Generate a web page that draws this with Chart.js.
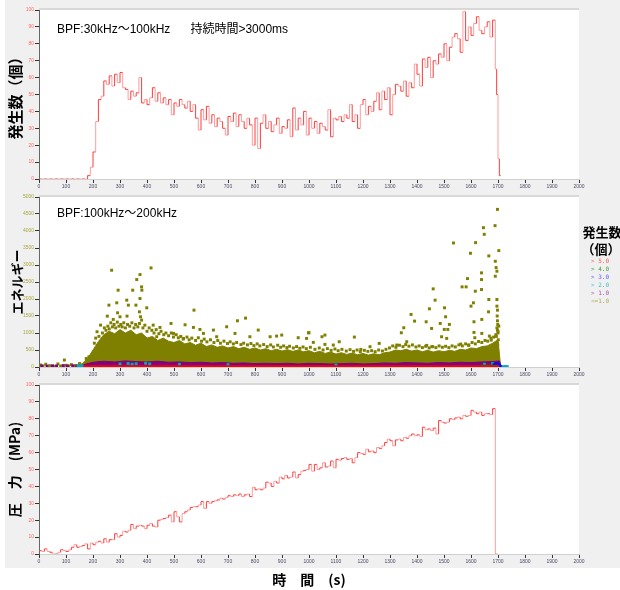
<!DOCTYPE html>
<html>
<head>
<meta charset="utf-8">
<script src="https://cdn.jsdelivr.net/npm/chart.js@4/dist/chart.umd.min.js"></script>
<style>
  body { margin: 0; background: #fff; }
  canvas { position: absolute; left: 0; }
</style>
</head>
<body>
<canvas id="countChart" width="620" height="190" style="top:0px"></canvas>
<canvas id="energyChart" width="620" height="190" style="top:190px"></canvas>
<canvas id="pressureChart" width="620" height="210" style="top:380px"></canvas>
<script>
// time grid (s), 10 s bins
const secs = [
  0, 10, 20, 30, 40, 50, 60, 70, 80, 90,
  100, 110, 120, 130, 140, 150, 160, 170, 180, 190,
  200, 210, 220, 230, 240, 250, 260, 270, 280, 290,
  300, 310, 320, 330, 340, 350, 360, 370, 380, 390,
  400, 410, 420, 430, 440, 450, 460, 470, 480, 490,
  500, 510, 520, 530, 540, 550, 560, 570, 580, 590,
  600, 610, 620, 630, 640, 650, 660, 670, 680, 690,
  700, 710, 720, 730, 740, 750, 760, 770, 780, 790,
  800, 810, 820, 830, 840, 850, 860, 870, 880, 890,
  900, 910, 920, 930, 940, 950, 960, 970, 980, 990,
  1000, 1010, 1020, 1030, 1040, 1050, 1060, 1070, 1080, 1090,
  1100, 1110, 1120, 1130, 1140, 1150, 1160, 1170, 1180, 1190,
  1200, 1210, 1220, 1230, 1240, 1250, 1260, 1270, 1280, 1290,
  1300, 1310, 1320, 1330, 1340, 1350, 1360, 1370, 1380, 1390,
  1400, 1410, 1420, 1430, 1440, 1450, 1460, 1470, 1480, 1490,
  1500, 1510, 1520, 1530, 1540, 1550, 1560, 1570, 1580, 1590,
  1600, 1610, 1620, 1630, 1640, 1650, 1660, 1670, 1680, 1690,
  1700
];
const tailSecs = [1695, 1700, 1705, 1710];

// top panel: hit count (BPF 30-100 kHz)
const counts = [
  0, 0, 0, 0, 0, 0, 0, 0, 0, 0,
  0, 0, 0, 0, 0, 0, 0, 0, 0, 2,
  7, 16, 34, 47, 49, 58, 56, 61, 55, 62,
  57, 63, 54, 53, 47, 52, 49, 51, 60, 45,
  47, 44, 48, 54, 46, 51, 45, 48, 44, 47,
  38, 45, 43, 47, 44, 42, 46, 40, 44, 36,
  29, 41, 35, 43, 33, 38, 31, 36, 34, 30,
  26, 37, 34, 39, 31, 38, 34, 30, 36, 32,
  20, 36, 18, 33, 38, 30, 34, 28, 32, 36,
  27, 31, 30, 35, 25, 42, 29, 36, 32, 40,
  26, 36, 30, 34, 27, 33, 31, 29, 41, 25,
  36, 35, 37, 34, 38, 36, 44, 34, 38, 30,
  44, 47, 38, 43, 40, 46, 51, 41, 52, 47,
  54, 38, 50, 56, 55, 52, 58, 49, 57, 54,
  68, 62, 55, 71, 66, 72, 60, 70, 68, 74,
  72, 80, 70, 78, 84, 86, 83, 75, 99, 82,
  90, 85, 92, 96, 88, 86, 90, 93, 84, 94
];
const countsTail = [65, 50, 12, 2];

// bottom panel: pressure (MPa)
const pressure = [
  2.5, 2, 1.5, 3, 1.5, 1, 0, 0, 1, 2.5,
  2, 1.5, 2.5, 4, 5.5, 4, 4.5, 5, 6, 3,
  6.5, 5.5, 7, 7.5, 6.5, 9, 7, 8.5, 8.5, 12,
  10, 11, 13.5, 13, 14, 17.5, 15, 16.5, 17, 16.5,
  15, 17, 18, 16.5, 16, 20, 20.5, 21, 21.5, 23,
  19, 25, 22, 19, 24, 25, 26, 27.5, 28, 28,
  29, 31, 27, 31, 30, 31, 31.5, 32, 33, 32.5,
  33.5, 34.5, 34, 35, 34.5, 35.5, 34, 35, 35.5, 34,
  39.5, 38, 38.5, 38, 39, 42.5, 42, 40, 43, 42,
  45.5, 44.5, 46.5, 45, 45.5, 48.5, 45, 47, 49, 49.5,
  50, 53, 49, 53, 50, 51, 54, 51.5, 52, 55,
  51, 56, 55.5, 56.5, 57, 56, 56.5, 54, 57, 60,
  59.5, 59, 62, 60.5, 61, 60, 63, 62.5, 64, 66,
  68, 67, 64, 67.5, 68, 67, 69, 68.5, 70, 71,
  70, 70.5, 69.5, 75, 73.5, 74, 73, 74.5, 71, 79,
  78, 77.5, 78, 80, 79.5, 80.5, 81, 80, 82, 81.5,
  82, 85, 84, 83, 84, 82, 83, 83, 82.5, 86,
  0
];

// middle panel: energy (BPF 100-200 kHz), grouped by hit count class
const bandSecs = [
  160, 180, 200, 220, 240, 260, 280, 300, 320, 340, 360, 380, 400, 420, 440, 460, 480, 500,
  520, 540, 560, 580, 600, 620, 640, 660, 680, 700, 720, 740, 760, 780, 800, 820, 840, 860,
  880, 900, 920, 940, 960, 980, 1000, 1020, 1040, 1060, 1080, 1100, 1120, 1140, 1160, 1180,
  1200, 1220, 1240, 1260, 1280, 1300, 1320, 1340, 1360, 1380, 1400, 1420, 1440, 1460, 1480,
  1500, 1520, 1540, 1560, 1580, 1600, 1620, 1640, 1660, 1680, 1700, 1710
];
const bandTop = [
  100, 250, 500, 750, 950, 1050, 980, 1100, 1000, 1080, 950, 1000, 850, 900, 780, 850, 760, 720,
  780, 680, 720, 640, 700, 600, 650, 580, 620, 560, 600, 540, 580, 520, 560, 500, 540, 480,
  520, 470, 510, 460, 500, 450, 480, 420, 460, 400, 440, 380, 420, 370, 410, 360,
  400, 350, 390, 360, 420, 440, 500, 480, 520, 470, 500, 450, 490, 440, 480,
  450, 490, 460, 520, 500, 560, 540, 600, 620, 700, 800, 0
];
const violetSecs = [
  160, 200, 240, 280, 320, 360, 400, 440, 480, 520, 560, 600, 640, 680, 720, 760, 800, 840,
  880, 920, 960, 1000, 1040, 1080, 1120, 1160, 1200, 1240, 1280, 1320, 1360, 1400, 1440,
  1480, 1520, 1560, 1600, 1640, 1680, 1705, 1712
];
const violetTop = [
  60, 140, 170, 150, 180, 160, 150, 170, 140, 150, 130, 140, 120, 130, 110, 120, 100, 110,
  100, 110, 90, 110, 100, 90, 100, 110, 90, 100, 120, 110, 130, 120, 110,
  130, 120, 140, 130, 150, 160, 180, 0
];
const oliveHits = [
  [5, 60], [15, 30], [25, 80], [40, 40], [55, 20], [70, 90], [80, 30], [94, 205], [100, 50],
  [110, 30], [120, 70], [135, 40], [150, 100], [160, 60], [175, 250], [185, 300], [195, 180],
  [205, 700], [210, 850], [215, 1037], [222, 900], [228, 1232], [235, 1000], [242, 1150],
  [248, 1080], [255, 1200], [260, 1120], [266, 1300], [272, 1180], [278, 1250], [284, 1150],
  [290, 1320], [296, 1200], [303, 1250], [308, 1180], [314, 1300], [320, 1150], [328, 1250],
  [336, 1200], [344, 1300], [352, 1150], [358, 1250], [366, 1180], [372, 1280], [385, 1150],
  [392, 1230], [400, 1050], [408, 1150], [418, 1080], [426, 1000], [434, 1100], [444, 980],
  [452, 1050], [462, 950], [470, 1000], [480, 920], [490, 1000], [498, 880],
  [508, 950], [516, 860], [525, 900], [534, 820], [548, 880], [556, 800], [566, 850],
  [580, 780], [590, 860], [602, 760], [612, 820], [622, 740], [635, 800], [648, 720],
  [662, 780], [672, 700], [685, 760], [698, 690], [708, 740], [720, 680], [732, 720],
  [748, 660], [758, 700], [772, 650], [785, 690], [796, 630],
  [808, 680], [818, 620], [832, 660], [845, 600], [858, 650], [868, 590], [884, 640],
  [895, 580], [906, 620], [918, 570], [928, 610], [942, 560], [954, 600], [966, 550],
  [978, 590], [990, 540], [1005, 580], [1022, 520], [1038, 560], [1052, 500], [1068, 540],
  [1082, 490], [1096, 530], [1108, 480], [1122, 520], [1138, 470], [1152, 510], [1165, 460],
  [1178, 500], [1190, 450], [1205, 490], [1218, 460], [1232, 480], [1245, 450], [1258, 500],
  [1272, 470], [1285, 520],
  [1298, 560], [1310, 620], [1322, 580], [1335, 640], [1348, 600], [1358, 660], [1370, 610],
  [1383, 650], [1396, 590], [1408, 620], [1420, 570], [1432, 610], [1445, 560], [1458, 600],
  [1470, 570], [1482, 620], [1494, 580], [1506, 610], [1518, 570], [1530, 620], [1542, 590],
  [1555, 650], [1568, 620], [1580, 680], [1592, 650], [1604, 720], [1616, 680], [1628, 750],
  [1640, 720], [1652, 780], [1662, 760], [1674, 850], [1684, 880], [1692, 950], [1700, 1050],
  [269, 2846], [415, 2914], [374, 2719], [362, 2572], [293, 2259], [347, 2259], [380, 2357],
  [381, 2259], [374, 2015], [325, 1966], [331, 1819], [288, 1888], [259, 1819], [359, 1819],
  [399, 1741], [372, 1623], [291, 1594], [300, 1477], [253, 1496], [275, 1399], [326, 1496],
  [376, 1477], [380, 1379], [574, 1672], [765, 1438], [735, 1359], [489, 1281], [541, 1242],
  [423, 1232], [448, 1164], [572, 1164], [596, 1105], [646, 1086], [695, 1183], [812, 1086],
  [899, 939], [998, 1007], [960, 861], [856, 890], [880, 909], [726, 988], [658, 890],
  [498, 988], [436, 890], [535, 841], [781, 890], [609, 988], [263, 890],
  [1698, 4636], [1689, 4157], [1646, 4098], [1649, 3902], [1535, 3648], [1617, 3658],
  [1598, 3345], [1666, 3267], [1703, 3423], [1690, 3110], [1693, 2924], [1696, 2817],
  [1690, 2670], [1639, 2768], [1639, 2572], [1587, 2601], [1567, 2357], [1582, 2357],
  [1460, 2298], [1639, 2279], [1616, 2230], [1467, 1966], [1666, 1985], [1696, 1985],
  [1600, 1790], [1609, 1888], [1696, 1790], [1446, 1711], [1502, 1741], [1698, 1672],
  [1665, 1623], [1378, 1545], [1391, 1350], [1434, 1330], [1506, 1477], [1640, 1399],
  [1611, 1330], [1698, 1359], [1703, 1203], [1520, 1252], [1351, 1154], [1454, 1134],
  [1501, 1105], [1486, 1281], [1514, 1105], [1342, 1007], [1611, 1017], [1640, 988],
  [1698, 1086], [1668, 909], [1614, 861], [1491, 890], [1510, 841], [1675, 792], [1362, 743],
  [1000, 1007], [1059, 939], [1048, 890], [991, 841], [1168, 880], [1112, 743], [1260, 694],
  [1226, 597], [1192, 518], [1090, 646], [1325, 646], [1436, 636], [1455, 597], [1562, 675],
  [1591, 636], [1016, 724], [1059, 665],
  [1697, 1500], [1699, 1250], [1696, 1150], [1700, 1000], [1694, 900], [1701, 800],
  [1697, 700], [1699, 650]
];
const violetHits = [[10, 30], [30, 25], [50, 35], [65, 30], [90, 40], [105, 30], [125, 35], [140, 30]];
const cyanHits = [
  [145, 30], [152, 30], [160, 30], [300, 90], [330, 100], [345, 80], [360, 95], [395, 110],
  [410, 90], [520, 80], [700, 70], [1100, 60], [1650, 80], [1680, 100],
  [1712, 10], [1720, 10], [1728, 10], [1734, 10]
];
const blueHits = [[1685, 60], [1690, 80], [1695, 40], [1700, 90], [1705, 50], [1708, 20]];
const redSpan = [[165, 10], [1705, 10]];
const greenSpan = [[1635, 25], [1700, 25]];

const keyTitle = ['発生数', '（個）'];
const keyLabels = ['> 5.0', '> 4.0', '> 3.0', '> 2.0', '> 1.0', '<=1.0'];
const keyColors = ['#ff5a5a', '#3fa03f', '#5a5aff', '#3fc0d0', '#b050b0', '#b0b050'];

const OLIVE = '#808000';
const VIOLET = '#800080';

Chart.defaults.font.family = "'Liberation Sans', 'Noto Sans CJK JP', sans-serif";
Chart.defaults.animation = false;

const panelBg = {
  id: 'panelBg',
  beforeDraw(chart, args, opts) {
    const { ctx, chartArea: a } = chart;
    ctx.save();
    ctx.fillStyle = '#f0f0f0';
    ctx.fillRect(5, 0, chart.width - 5, opts.grayHeight || chart.height);
    ctx.fillStyle = '#d8d8d8';
    ctx.fillRect(a.left, a.top - 2, a.right - a.left, 2);
    ctx.fillStyle = '#ffffff';
    ctx.fillRect(a.left, a.top, a.right - a.left, a.bottom - a.top);
    ctx.restore();
  }
};

const note = {
  id: 'note',
  afterDraw(chart, args, opts) {
    if (!opts.text) return;
    const { ctx, chartArea: a } = chart;
    ctx.save();
    ctx.font = "12px 'Liberation Sans', 'Noto Sans CJK JP'";
    ctx.fillStyle = '#000';
    ctx.textBaseline = 'middle';
    ctx.fillText(opts.text, a.left + 18, a.top + opts.dy);
    ctx.restore();
  }
};

Chart.register(panelBg, note);

const countKey = {
  id: 'countKey',
  afterDraw(chart) {
    const ctx = chart.ctx;
    ctx.save();
    ctx.fillStyle = '#000';
    ctx.textAlign = 'center';
    ctx.textBaseline = 'middle';
    ctx.font = "bold 13px 'Noto Sans CJK JP'";
    ctx.fillText(keyTitle[0], 602, 42);
    ctx.fillText(keyTitle[1], 601, 59);
    ctx.font = "6px 'DejaVu Sans Mono'";
    ctx.textAlign = 'left';
    keyLabels.forEach((t, i) => {
      ctx.fillStyle = keyColors[i];
      ctx.fillText(t, 591, 71 + i * 8);
    });
    ctx.restore();
  }
};

const stripe = (ctx) => (ctx.p0DataIndex % 2 ? '#ff9c9c' : '#ff3c3c');
const pts = (xs, ys) => xs.map((x, i) => ({ x, y: ys[i] }));
const pairs = (list) => list.map(([x, y]) => ({ x, y }));

function xAxis(height, title) {
  return {
    type: 'linear',
    min: 0,
    max: 2000,
    ticks: { stepSize: 100, autoSkip: false, maxRotation: 0, padding: 1, color: '#4a4a66', font: { size: 5 }, callback: (v) => v },
    grid: { drawOnChartArea: false, tickLength: 4, tickColor: '#333' },
    border: { color: '#d0d0d0' },
    title: title || { display: false },
    afterFit: (s) => { s.height = height; }
  };
}

function yAxis(max, step, color, text, size, pad) {
  return {
    min: 0,
    max: max,
    ticks: { stepSize: step, padding: 1, color: color, font: { size: 5 }, callback: (v) => v },
    grid: { drawOnChartArea: false, tickLength: 4, tickColor: '#333' },
    border: { color: '#666' },
    title: {
      display: true,
      text: text,
      color: '#000',
      font: { family: "'Noto Sans CJK JP'", size: size, weight: 'bold' },
      padding: { top: pad, bottom: 0 }
    },
    afterFit: (s) => { s.width = 39; }
  };
}

const base = {
  responsive: false,
  maintainAspectRatio: false,
  devicePixelRatio: 1,
  events: [],
  plugins: { legend: { display: false }, tooltip: { enabled: false } }
};

// top: count
new Chart(document.getElementById('countChart'), {
  type: 'line',
  data: {
    datasets: [{
      data: pts(secs.slice(0, 170).concat(tailSecs), counts.concat(countsTail)),
      stepped: 'after',
      borderWidth: 1,
      borderColor: '#ff5050',
      segment: { borderColor: stripe },
      pointRadius: 0
    }]
  },
  options: {
    ...base,
    layout: { padding: { left: 0, right: 41, top: 10, bottom: 0 } },
    scales: { x: xAxis(11), y: yAxis(100, 10, '#ff6a6a', '発生数（個）', 15, 6) },
    plugins: { ...base.plugins, note: { text: 'BPF:30kHz～100kHz      持続時間>3000ms', dy: 20 } }
  }
});

// middle: energy scatter
const dot = (color, data) => ({
  data: data,
  showLine: false,
  pointStyle: 'rect',
  pointRadius: 2.1,
  pointBorderWidth: 0,
  pointBackgroundColor: color
});
const area = (color, data) => ({
  data: data,
  showLine: true,
  fill: 'origin',
  backgroundColor: color,
  borderColor: color,
  borderWidth: 1,
  pointRadius: 0
});
const bar = (color, data) => ({
  data: data,
  showLine: true,
  borderColor: color,
  borderWidth: 3,
  pointRadius: 0
});

new Chart(document.getElementById('energyChart'), {
  type: 'line',
  data: {
    datasets: [
      bar('#ff0000', pairs(redSpan)),
      bar('#008000', pairs(greenSpan)),
      dot('#0000ff', pairs(blueHits)),
      dot('#00a8c0', pairs(cyanHits)),
      dot(VIOLET, pairs(violetHits)),
      area(VIOLET, pts(violetSecs, violetTop)),
      dot(OLIVE, pairs(oliveHits)),
      area(OLIVE, pts(bandSecs, bandTop))
    ]
  },
  options: {
    ...base,
    layout: { padding: { left: 0, right: 41, top: 7, bottom: 0 } },
    scales: { x: xAxis(13), y: yAxis(5000, 500, '#a8a840', 'エネルギー', 13, 9) },
    plugins: { ...base.plugins, note: { text: 'BPF:100kHz～200kHz', dy: 17 } }
  },
  plugins: [countKey]
});

// bottom: pressure
new Chart(document.getElementById('pressureChart'), {
  type: 'line',
  data: {
    datasets: [{
      data: pts(secs, pressure),
      stepped: 'after',
      borderWidth: 1,
      borderColor: '#ff5050',
      segment: { borderColor: stripe },
      pointRadius: 0
    }]
  },
  options: {
    ...base,
    layout: { padding: { left: 0, right: 41, top: 5, bottom: 0 } },
    scales: {
      x: xAxis(36, {
        display: true,
        text: '時　間　(s)',
        color: '#000',
        font: { family: "'Noto Sans CJK JP'", size: 14, weight: 'bold' },
        padding: { top: 0, bottom: 2 }
      }),
      y: yAxis(100, 10, '#ff6a6a', '圧　力　(MPa)', 14, 6)
    },
    plugins: { ...base.plugins, panelBg: { grayHeight: 188 } }
  }
});
</script>
</body>
</html>
